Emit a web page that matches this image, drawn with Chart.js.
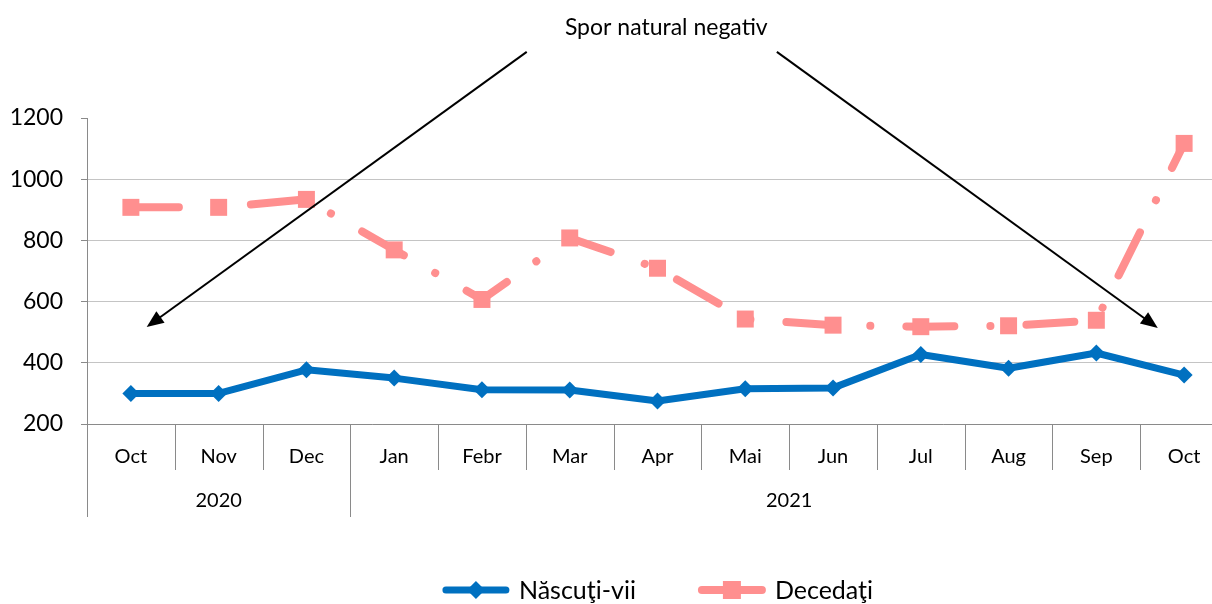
<!DOCTYPE html>
<html>
<head>
<meta charset="utf-8">
<script src="https://cdn.jsdelivr.net/npm/chart.js@4.4.1/dist/chart.umd.min.js"></script>
<style>
  html, body { margin: 0; padding: 0; background: #fff; overflow: hidden; }
  #wrap { width: 1212px; height: 604px; overflow: hidden; position: relative; }
  #wrap canvas { position: absolute; left: 0; top: 0; }
</style>
</head>
<body>
<div id="wrap"><canvas id="chart" width="1230" height="604"></canvas></div>
<script>
const months = ["Oct", "Nov", "Dec", "Jan", "Febr", "Mar", "Apr", "Mai", "Jun", "Jul", "Aug", "Sep", "Oct"];
const yearLabels = ["2020", "2021"];
const yearSpans = [3, 10];
const nascuti = [300, 300, 377, 350, 312, 311, 275, 315, 318, 427, 382, 432, 360];
const decedati = [908, 908, 934, 769, 607, 808, 709, 543, 523, 518, 521, 539, 1117];
const seriesNames = ["Născuţi-vii", "Decedaţi"];
const noteText = "Spor natural negativ";

const C_BLUE = "#0070c0";
const C_RED = "#ff8f8f";
const C_AXIS = "#8a8a8a";
const FONT = "Lato, 'Open Sans', sans-serif";

// arrow from the note down to either end of the chart (x = category index, y = value)
const arrows = [
    { from: [4.51, 1416], to: [0.18, 517] },
    { from: [7.36, 1416], to: [11.70, 514] },
];

function drawArrow(ctx, x1, y1, x2, y2) {
    const ang = Math.atan2(y2 - y1, x2 - x1);
    const len = 17, half = 7;
    ctx.beginPath();
    ctx.moveTo(x1, y1);
    ctx.lineTo(x2 - Math.cos(ang) * len * 0.8, y2 - Math.sin(ang) * len * 0.8);
    ctx.stroke();
    ctx.beginPath();
    ctx.moveTo(x2, y2);
    ctx.lineTo(x2 - Math.cos(ang) * len - Math.sin(ang) * half, y2 - Math.sin(ang) * len + Math.cos(ang) * half);
    ctx.lineTo(x2 - Math.cos(ang) * len + Math.sin(ang) * half, y2 - Math.sin(ang) * len - Math.cos(ang) * half);
    ctx.closePath();
    ctx.fill();
}

const decor = {
    id: "decor",
    afterDraw(chart) {
        const ctx = chart.ctx;
        const xs = chart.scales.x, ys = chart.scales.y;
        const area = chart.chartArea;
        const step = xs.getPixelForValue(1) - xs.getPixelForValue(0);
        ctx.save();

        // category / year separators under the axis
        const yearStarts = [0];
        yearSpans.forEach(n => yearStarts.push(yearStarts[yearStarts.length - 1] + n));
        ctx.strokeStyle = C_AXIS;
        ctx.lineWidth = 1;
        for (let i = 0; i <= months.length; i++) {
            const px = Math.round(xs.getPixelForValue(i) - step / 2) + 0.5;
            const long = yearStarts.includes(i);
            ctx.beginPath();
            ctx.moveTo(px, area.bottom);
            ctx.lineTo(px, area.bottom + (long ? 93 : 46));
            ctx.stroke();
        }

        // year labels
        ctx.fillStyle = "#000";
        ctx.font = "20px " + FONT;
        ctx.textAlign = "center";
        ctx.textBaseline = "middle";
        yearLabels.forEach((lab, k) => {
            const a = xs.getPixelForValue(yearStarts[k]) - step / 2;
            const b = xs.getPixelForValue(yearStarts[k + 1]) - step / 2;
            ctx.fillText(lab, (a + b) / 2, area.bottom + 77);
        });

        // note + arrows
        ctx.font = "23px " + FONT;
        ctx.fillText(noteText, xs.getPixelForValue(6.1), ys.getPixelForValue(1494));
        ctx.strokeStyle = "#000";
        ctx.fillStyle = "#000";
        ctx.lineWidth = 2;
        arrows.forEach(a => {
            drawArrow(ctx,
                xs.getPixelForValue(a.from[0]), ys.getPixelForValue(a.from[1]),
                xs.getPixelForValue(a.to[0]), ys.getPixelForValue(a.to[1]));
        });

        // legend (line sample with marker, then label)
        ctx.font = "25px " + FONT;
        ctx.textAlign = "left";
        const sample = 68, gapText = 9, gapItem = 62;
        const widths = seriesNames.map(s => ctx.measureText(s).width);
        const total = 2 * (sample + gapText) + widths[0] + widths[1] + gapItem;
        let lx = (area.left + area.right) / 2 - total / 2;
        const ly = 590;
        ctx.lineCap = "round";
        [C_BLUE, C_RED].forEach((col, k) => {
            ctx.strokeStyle = col;
            ctx.fillStyle = col;
            ctx.lineWidth = k === 0 ? 7 : 8;
            ctx.beginPath();
            ctx.moveTo(lx + 4, ly);
            ctx.lineTo(lx + sample - 4, ly);
            ctx.stroke();
            const cx = lx + sample / 2;
            ctx.beginPath();
            if (k === 0) {
                ctx.moveTo(cx, ly - 9); ctx.lineTo(cx + 9, ly); ctx.lineTo(cx, ly + 9); ctx.lineTo(cx - 9, ly);
            } else {
                ctx.rect(cx - 9, ly - 9, 18, 18);
            }
            ctx.fill();
            ctx.fillStyle = "#000";
            ctx.fillText(seriesNames[k], lx + sample + gapText, ly + 1);
            lx += sample + gapText + widths[k] + gapItem;
        });
        ctx.restore();
    }
};

new Chart(document.getElementById("chart"), {
    type: "line",
    data: {
        labels: months,
        datasets: [
            {
                label: seriesNames[0],
                data: nascuti,
                borderColor: C_BLUE,
                backgroundColor: C_BLUE,
                borderWidth: 7,
                borderJoinStyle: "round",
                borderCapStyle: "round",
                pointStyle: "rectRot",
                pointRadius: 8.5,
                pointBorderWidth: 0,
                pointBackgroundColor: C_BLUE,
                tension: 0
            },
            {
                label: seriesNames[1],
                data: decedati,
                borderColor: C_RED,
                backgroundColor: C_RED,
                borderWidth: 8,
                borderCapStyle: "round",
                borderJoinStyle: "round",
                borderDash: [48, 36, 0.1, 36],
                pointStyle: "rect",
                pointRadius: 12,
                pointBorderWidth: 0,
                pointBackgroundColor: C_RED,
                tension: 0
            }
        ]
    },
    options: {
        responsive: false,
        animation: false,
        layout: { padding: { top: 118, right: 2, left: 0, bottom: 0 }, autoPadding: false },
        plugins: {
            legend: { display: false },
            tooltip: { enabled: false }
        },
        scales: {
            x: {
                offset: true,
                grid: { display: false },
                border: { color: C_AXIS },
                ticks: {
                    color: "#000",
                    font: { family: FONT, size: 20 },
                    padding: 13,
                    maxRotation: 0,
                    autoSkip: false
                },
                afterFit: (s) => { s.height = 180; }
            },
            y: {
                min: 200,
                max: 1200,
                border: { color: C_AXIS },
                grid: {
                    color: (c) => c.tick && c.tick.value === 1200 ? "rgba(0,0,0,0)" : "#c4c4c4",
                    tickColor: C_AXIS,
                    tickLength: 6
                },
                ticks: {
                    stepSize: 200,
                    color: "#000",
                    font: { family: FONT, size: 23 },
                    padding: 18,
                    callback: (v) => String(v)
                },
                afterFit: (s) => { s.width = 87; }
            }
        }
    },
    plugins: [decor]
});
</script>
</body>
</html>
